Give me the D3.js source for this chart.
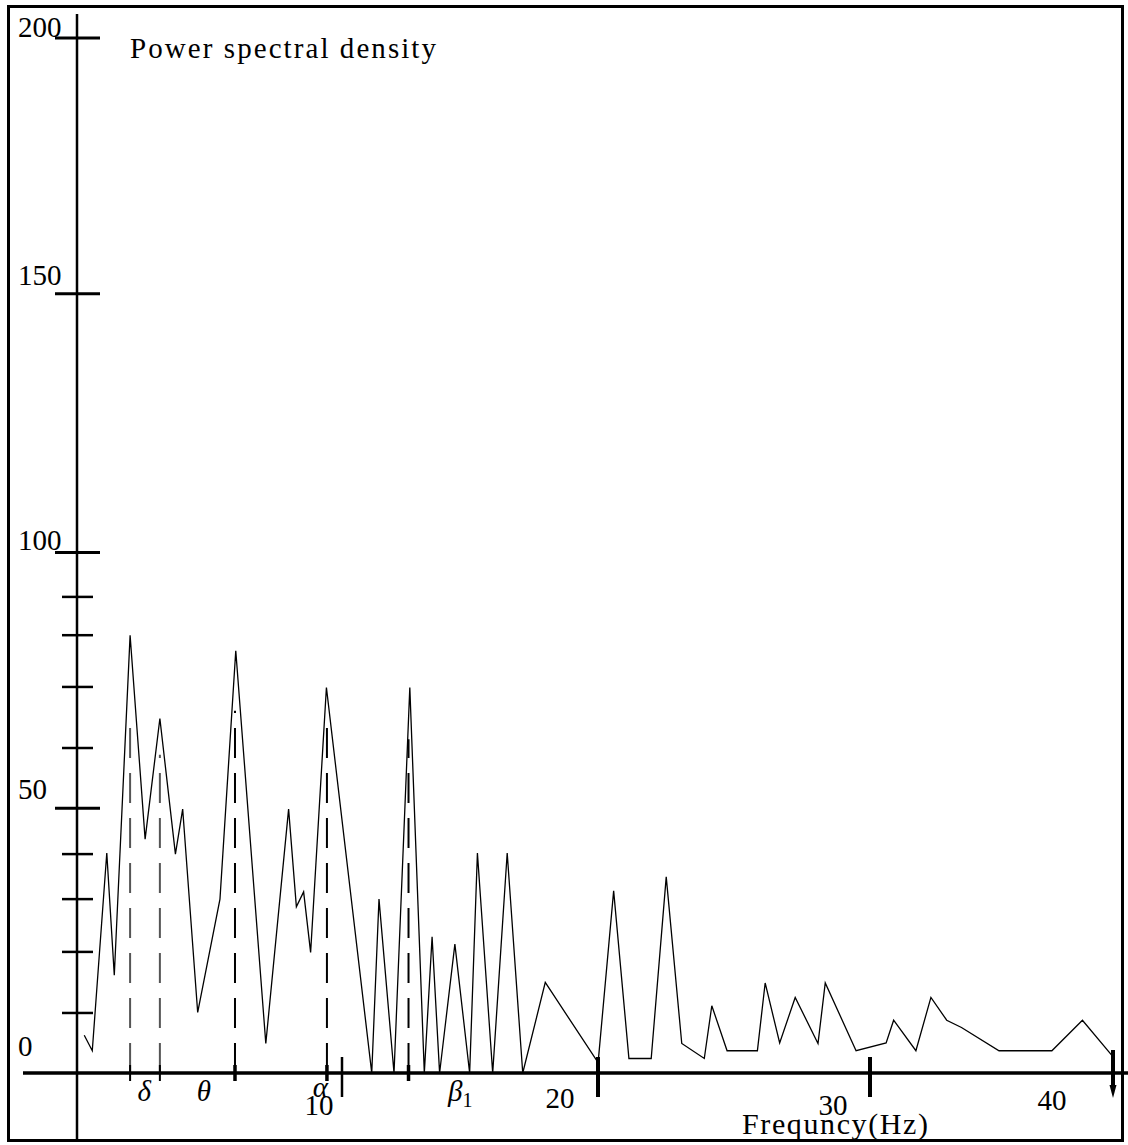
<!DOCTYPE html>
<meta charset="utf-8">
<title>Power spectral density</title>
<style>
  body { margin: 0; background: #fff; }
  text { font-family: "Liberation Serif", "DejaVu Serif", serif; fill: #000; }
</style>
<div id="viz"></div>
<script src="https://cdnjs.cloudflare.com/ajax/libs/d3/7.8.5/d3.min.js"></script>
<script>

// spectrum
var freqHz = [0.28, 0.59, 1.15, 1.44, 2.05, 2.63, 3.20, 3.80, 4.08, 4.66, 5.52, 6.13,
  7.29, 8.17, 8.47, 8.75, 9.02, 9.63, 11.38, 11.66, 12.24, 12.85, 13.41, 13.71,
  14.00, 14.59, 15.16, 15.46, 16.05, 16.61, 17.21, 18.08, 20.12, 20.72, 21.31,
  22.17, 22.75, 23.35, 24.22, 24.51, 25.10, 26.27, 26.57, 27.13, 27.73, 28.61,
  28.89, 30.08, 31.24, 31.53, 32.39, 32.97, 33.58, 34.15, 35.60, 37.64, 38.82, 39.94];
var psd = [7.3, 4.3, 42.5, 18.9, 84.6, 45.2, 68.5, 42.3, 51.0, 11.7, 33.6, 81.6,
  5.7, 51.0, 32.1, 35.0, 23.3, 74.5, 0, 33.6, 0, 74.5, 0, 26.3,
  0, 24.9, 0, 42.5, 0, 42.5, 0, 17.5, 2.0, 35.2, 2.8,
  2.8, 37.9, 5.7, 2.8, 13.0, 4.3, 4.3, 17.4, 5.8, 14.6, 5.7,
  17.4, 4.3, 5.8, 10.2, 4.3, 14.6, 10.2, 8.8, 4.3, 4.3, 10.2, 3.5];

// EEG band markers (dashed lines)
var bandEdgeHz = [2.05, 3.2, 6.1, 9.65, 12.8];
var bandEdgeTop = [67, 61.5, 70, 67, 64.5];
var bandNames = ["δ", "θ", "α", "β"];
var bandLabelHz = [2.6, 4.9, 9.4, 14.8];

// axes
var yMajor = [200, 150, 100, 50];
var yLabels = ["200", "150", "100", "50", "0"];
var yMinor = [92, 84.6, 74.6, 62.8, 42.3, 33.6, 23.4, 11.6];
var xMajor = [10, 20, 30, 40];
var xLabels = ["10", "20", "30", "40"];

var width = 1128, height = 1145;
var axisX = 77, axisY = 1073;

// hand-drawn offsets of the original figure (px)
var yTickNudge = [0, -3, -3, -6];
var yLabelBase = [37, 285, 550, 799, 1056];
var xTickNudge = [6, 3, 16, 0];
var xLabelDx = [-17, -35, -21, -61];
var xLabelBase = [1115, 1108, 1115, 1110];

var x = d3.scaleLinear().domain([0, 40]).range([axisX, 1113]);
var y = d3.scaleLinear().domain([0, 200]).range([axisY, 38]);

var svg = d3.select("#viz").append("svg")
  .attr("width", width)
  .attr("height", height);

// frame
svg.append("rect")
  .attr("x", 8.5).attr("y", 6.5)
  .attr("width", 1114).attr("height", 1134)
  .attr("fill", "none").attr("stroke", "#000").attr("stroke-width", 3);

// dashed band lines
svg.selectAll(".band")
  .data(bandEdgeHz)
  .enter().append("line")
  .attr("x1", d => x(d)).attr("x2", d => x(d))
  .attr("y1", axisY).attr("y2", (d, i) => y(bandEdgeTop[i]))
  .attr("stroke", (d, i) => i < 2 ? "#555" : "#000")
  .attr("stroke-width", 2)
  .attr("stroke-dasharray", "30,15");

// spectrum line
var line = d3.line()
  .x(d => x(d[0]))
  .y(d => y(d[1]));

svg.append("path")
  .datum(d3.zip(freqHz, psd))
  .attr("d", line)
  .attr("fill", "none")
  .attr("stroke", "#000")
  .attr("stroke-width", 1.3);

// y axis
svg.append("line")
  .attr("x1", axisX).attr("x2", axisX)
  .attr("y1", 14).attr("y2", 1141)
  .attr("stroke", "#000").attr("stroke-width", 2.5);

svg.selectAll(".ymaj")
  .data(yMajor)
  .enter().append("line")
  .attr("x1", 55).attr("x2", 100)
  .attr("y1", (d, i) => y(d) + yTickNudge[i])
  .attr("y2", (d, i) => y(d) + yTickNudge[i])
  .attr("stroke", "#000").attr("stroke-width", 3);

svg.selectAll(".ymin")
  .data(yMinor)
  .enter().append("line")
  .attr("x1", 62).attr("x2", 93)
  .attr("y1", d => y(d)).attr("y2", d => y(d))
  .attr("stroke", "#000").attr("stroke-width", 2.5);

svg.selectAll(".ylab")
  .data(yLabels)
  .enter().append("text")
  .attr("x", 18)
  .attr("y", (d, i) => yLabelBase[i])
  .attr("font-size", 29)
  .attr("textLength", d => d.length * 14.5)
  .attr("lengthAdjust", "spacingAndGlyphs")
  .text(d => d);

svg.append("text")
  .attr("x", 130).attr("y", 58)
  .attr("font-size", 29)
  .attr("textLength", 306)
  .attr("lengthAdjust", "spacing")
  .text("Power spectral density");

// x axis
svg.append("line")
  .attr("x1", 23).attr("x2", 1128)
  .attr("y1", axisY).attr("y2", axisY)
  .attr("stroke", "#000").attr("stroke-width", 3.5);

svg.selectAll(".btick")
  .data(bandEdgeHz)
  .enter().append("line")
  .attr("x1", d => x(d)).attr("x2", d => x(d))
  .attr("y1", 1065).attr("y2", 1081)
  .attr("stroke", "#000")
  .attr("stroke-width", (d, i) => i < 2 ? 2 : 3.5);

svg.selectAll(".xmaj")
  .data(xMajor)
  .enter().append("line")
  .attr("x1", (d, i) => x(d) + xTickNudge[i])
  .attr("x2", (d, i) => x(d) + xTickNudge[i])
  .attr("y1", (d, i) => i == 3 ? 1050 : 1057)
  .attr("y2", (d, i) => i == 3 ? 1088 : 1097)
  .attr("stroke", "#000")
  .attr("stroke-width", (d, i) => i == 0 ? 2.5 : 4);

// arrow head on the last tick
var ax = x(40);
svg.append("path")
  .attr("d", "M" + (ax - 3.5) + ",1085 L" + (ax + 3.5) + ",1085 L" + ax + ",1098 Z")
  .attr("fill", "#000");

svg.selectAll(".xlab")
  .data(xLabels)
  .enter().append("text")
  .attr("x", (d, i) => x(xMajor[i]) + xLabelDx[i])
  .attr("y", (d, i) => xLabelBase[i])
  .attr("text-anchor", "middle")
  .attr("font-size", 29)
  .text(d => d);

// band names
var bandG = svg.selectAll(".bname")
  .data(bandNames)
  .enter().append("text")
  .attr("x", (d, i) => x(bandLabelHz[i]))
  .attr("y", (d, i) => i == 2 ? 1097 : 1101)
  .attr("text-anchor", "middle")
  .attr("font-size", 29)
  .attr("font-style", "italic");
bandG.append("tspan").text(d => d);
bandG.filter(d => d == "β").append("tspan")
  .attr("font-size", 20)
  .attr("font-style", "normal")
  .attr("dy", 6)
  .text("1");

svg.append("text")
  .attr("x", 742).attr("y", 1134)
  .attr("font-size", 30)
  .attr("textLength", 186)
  .attr("lengthAdjust", "spacing")
  .text("Frequncy(Hz)");

</script>
